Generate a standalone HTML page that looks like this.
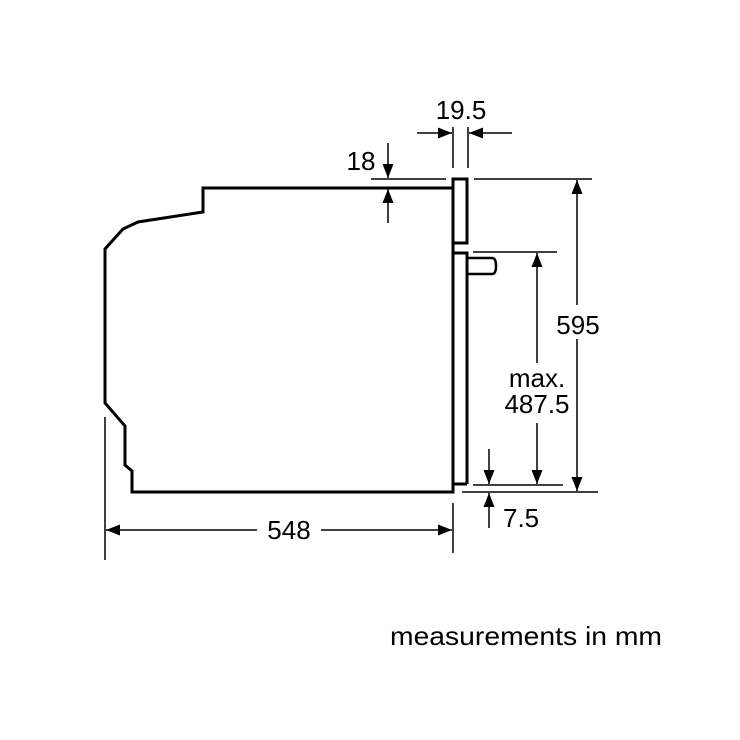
<!DOCTYPE html>
<html><head><style>
html,body{margin:0;padding:0;background:#fff;}
svg{display:block;}
text{font-family:"Liberation Sans",Arial,sans-serif;fill:#000;}
</style></head><body>
<svg width="740" height="740" viewBox="0 0 740 740" xmlns="http://www.w3.org/2000/svg">
<defs>
<marker id="a" markerWidth="14" markerHeight="11" refX="14" refY="5.5" orient="auto" markerUnits="userSpaceOnUse">
<path d="M0,0 L14,5.5 L0,11 z" fill="#000"/>
</marker>
</defs>
<g fill="none" stroke="#000" stroke-width="3" stroke-linejoin="miter">
<path d="M453,188 L203,188 L203,212 L138,222 L123,229 L105,249 L105,403 L125,426 L125,465 L132,471 L132,492 L453,492 L453,484 L467,484"/>
<path d="M453,188 L453,179 L467,179 L467,243 L453,243 Z"/>
<path d="M453,243 L453,484 M453,253 L467,253 L467,484"/>
<path d="M467,258 L492,258 Q496,258 496,266 Q496,274 492,274 L467,274" stroke-width="2.5"/>
</g>
<g stroke="#000" stroke-width="1.5" fill="none">
<line x1="453" y1="127" x2="453" y2="168"/>
<line x1="468" y1="127" x2="468" y2="168"/>
<line x1="417" y1="133" x2="452" y2="133" marker-end="url(#a)"/>
<line x1="512" y1="133" x2="469" y2="133" marker-end="url(#a)"/>
<line x1="371" y1="179" x2="446" y2="179"/>
<line x1="388" y1="143" x2="388" y2="178" marker-end="url(#a)"/>
<line x1="388" y1="223" x2="388" y2="189" marker-end="url(#a)"/>
<line x1="474" y1="179" x2="592" y2="179"/>
<line x1="462" y1="492" x2="598" y2="492"/>
<line x1="577" y1="305" x2="577" y2="180" marker-end="url(#a)"/>
<line x1="577" y1="339" x2="577" y2="491" marker-end="url(#a)"/>
<line x1="473" y1="252" x2="557" y2="252"/>
<line x1="473" y1="485" x2="563" y2="485"/>
<line x1="537" y1="363" x2="537" y2="253" marker-end="url(#a)"/>
<line x1="537" y1="423" x2="537" y2="484" marker-end="url(#a)"/>
<line x1="489" y1="449" x2="489" y2="484" marker-end="url(#a)"/>
<line x1="489" y1="528" x2="489" y2="493" marker-end="url(#a)"/>
<line x1="105" y1="417" x2="105" y2="560"/>
<line x1="453" y1="503" x2="453" y2="553"/>
<line x1="257" y1="530" x2="106" y2="530" marker-end="url(#a)"/>
<line x1="321" y1="530" x2="452" y2="530" marker-end="url(#a)"/>
</g>
<g font-size="26">
<text x="461" y="119" text-anchor="middle">19.5</text>
<text x="361" y="170" text-anchor="middle">18</text>
<text x="578" y="334" text-anchor="middle">595</text>
<text x="537" y="387" text-anchor="middle">max.</text>
<text x="537" y="413" text-anchor="middle">487.5</text>
<text x="503" y="527">7.5</text>
<text x="289" y="539" text-anchor="middle">548</text>
<text x="390" y="645" textLength="272" lengthAdjust="spacingAndGlyphs">measurements in mm</text>
</g>
</svg>
</body></html>
